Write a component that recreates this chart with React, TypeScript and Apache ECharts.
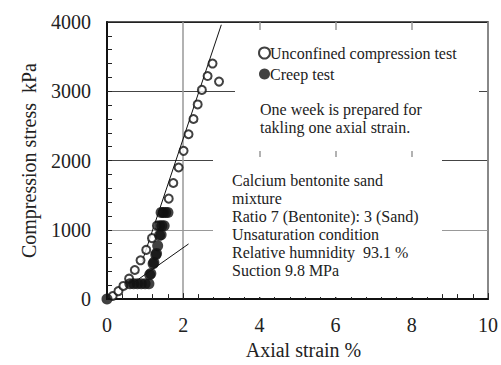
import React, { useEffect, useRef } from "react";
import * as echarts from "echarts";

const unconfinedStrain = [0.15, 0.3, 0.43, 0.58, 0.73, 0.88, 1.03, 1.18, 1.31, 1.46, 1.62, 1.74, 1.88, 2.01, 2.14, 2.27, 2.38, 2.49, 2.64, 2.77, 2.94];
const unconfinedStress = [45, 115, 190, 295, 420, 560, 710, 880, 1060, 1250, 1450, 1676, 1900, 2140, 2380, 2600, 2810, 3020, 3220, 3400, 3140];

const creepStrain = [0, 0.6, 0.7, 0.8, 0.9, 1.0, 1.1, 1.12, 1.15, 1.21, 1.23, 1.28, 1.3, 1.33, 1.38, 1.42, 1.38, 1.44, 1.5, 1.42, 1.48, 1.54, 1.6];
const creepStress = [0, 220, 220, 220, 220, 220, 220, 350, 370, 510, 530, 640, 660, 770, 920, 930, 1060, 1060, 1060, 1250, 1250, 1250, 1250];

const upperFitStrain = [0.92, 3.0];
const upperFitStress = [540, 3960];
const lowerFitStrain = [0.73, 2.14];
const lowerFitStress = [250, 796];

const seriesNames = ["Unconfined compression test", "Creep test"];
const noteLines = ["One week is prepared for", "takling one axial strain."];
const conditionLines = [
  "Calcium bentonite sand",
  "mixture",
  "Ratio 7 (Bentonite): 3 (Sand)",
  "Unsaturation condition",
  "Relative humnidity  93.1 %",
  "Suction 9.8 MPa",
];
const xAxisTitle = "Axial strain %";
const yAxisTitle = "Compression stress  kPa";

const FONT = "Liberation Serif";

function zip(a: number[], b: number[]) {
  return a.map((v, i) => [v, b[i]]);
}

export default function App() {
  const ref = useRef<HTMLDivElement>(null);
  useEffect(() => {
    if (!ref.current) return;
    const chart = echarts.init(ref.current, null, { renderer: "svg" });
    chart.setOption({
      animation: false,
      backgroundColor: "#fff",
      textStyle: { fontFamily: FONT },
      grid: {
        left: 107,
        right: 10,
        top: 22,
        bottom: 56,
        show: true,
        borderColor: "#222",
        borderWidth: 1.5,
        backgroundColor: "transparent",
      },
      legend: {
        orient: "vertical",
        left: 253,
        top: 40,
        itemGap: 5,
        itemWidth: 11,
        itemHeight: 11,
        data: [
          { name: seriesNames[0], icon: "circle" },
          { name: seriesNames[1], icon: "circle" },
        ],
        textStyle: { fontFamily: FONT, fontSize: 16, color: "#222", padding: [0, 0, 0, -5] },
        z: 5,
      },
      xAxis: {
        type: "value",
        min: 0,
        max: 10,
        interval: 2,
        name: xAxisTitle,
        nameLocation: "middle",
        nameGap: 34,
        nameTextStyle: { fontFamily: FONT, fontSize: 20, color: "#222", padding: [0, 0, 0, 12] },
        axisLine: { show: true, lineStyle: { color: "#111", width: 2 } },
        axisTick: { show: true, inside: true, length: 6, lineStyle: { color: "#222", width: 1 } },
        minorTick: { show: true, splitNumber: 5, length: 5, lineStyle: { color: "#222", width: 1 } },
        axisLabel: { fontFamily: FONT, fontSize: 20, color: "#222", margin: 16 },
        splitLine: { show: true, lineStyle: { color: "#999", width: 1.5 } },
      },
      yAxis: {
        type: "value",
        min: 0,
        max: 4000,
        interval: 1000,
        name: yAxisTitle,
        nameLocation: "middle",
        nameGap: 68,
        nameTextStyle: { fontFamily: FONT, fontSize: 20, color: "#222" },
        axisLine: { show: true, lineStyle: { color: "#111", width: 2 } },
        axisTick: { show: true, inside: true, length: 5, lineStyle: { color: "#222", width: 1 } },
        minorTick: { show: true, splitNumber: 5, length: 5, lineStyle: { color: "#222", width: 1 } },
        axisLabel: {
          fontFamily: FONT,
          fontSize: 20,
          color: "#222",
          margin: 16,
          formatter: (v: number) => String(v),
        },
        splitLine: {
          show: true,
          lineStyle: { color: ["#222", "#999", "#444", "#444", "#222"], width: 1.2 },
        },
      },
      graphic: [
        { type: "rect", z: 1, shape: { x: 235, y: 30, width: 244, height: 121 }, style: { fill: "#fff" } },
        { type: "rect", z: 1, shape: { x: 213, y: 157, width: 229, height: 140 }, style: { fill: "#fff" } },
        {
          type: "text",
          z: 5,
          x: 260,
          y: 101,
          style: {
            text: noteLines.join("\n"),
            fontFamily: FONT,
            fontSize: 16,
            fill: "#222",
            lineHeight: 17.5,
          },
        },
        {
          type: "text",
          z: 5,
          x: 232,
          y: 171,
          style: {
            text: conditionLines.join("\n"),
            fontFamily: FONT,
            fontSize: 16,
            fill: "#222",
            lineHeight: 18,
          },
        },
      ],
      series: [
        {
          name: "upperFit",
          type: "line",
          data: zip(upperFitStrain, upperFitStress),
          symbol: "none",
          lineStyle: { color: "#111", width: 1 },
          z: 3,
          silent: true,
        },
        {
          name: "lowerFit",
          type: "line",
          data: zip(lowerFitStrain, lowerFitStress),
          symbol: "none",
          lineStyle: { color: "#111", width: 1 },
          z: 3,
          silent: true,
        },
        {
          name: seriesNames[0],
          type: "scatter",
          data: zip(unconfinedStrain, unconfinedStress),
          symbol: "circle",
          symbolSize: 8,
          itemStyle: { color: "#fff", borderColor: "#111", borderWidth: 2 },
          z: 4,
        },
        {
          name: seriesNames[1],
          type: "scatter",
          data: zip(creepStrain, creepStress),
          symbol: "circle",
          symbolSize: 11,
          itemStyle: { color: "#111" },
          z: 4,
        },
      ],
    });
    return () => chart.dispose();
  }, []);
  return (
    <div
      ref={ref}
      style={{ position: "fixed", left: 0, top: 0, width: 501, height: 365, background: "#fff" }}
    />
  );
}
